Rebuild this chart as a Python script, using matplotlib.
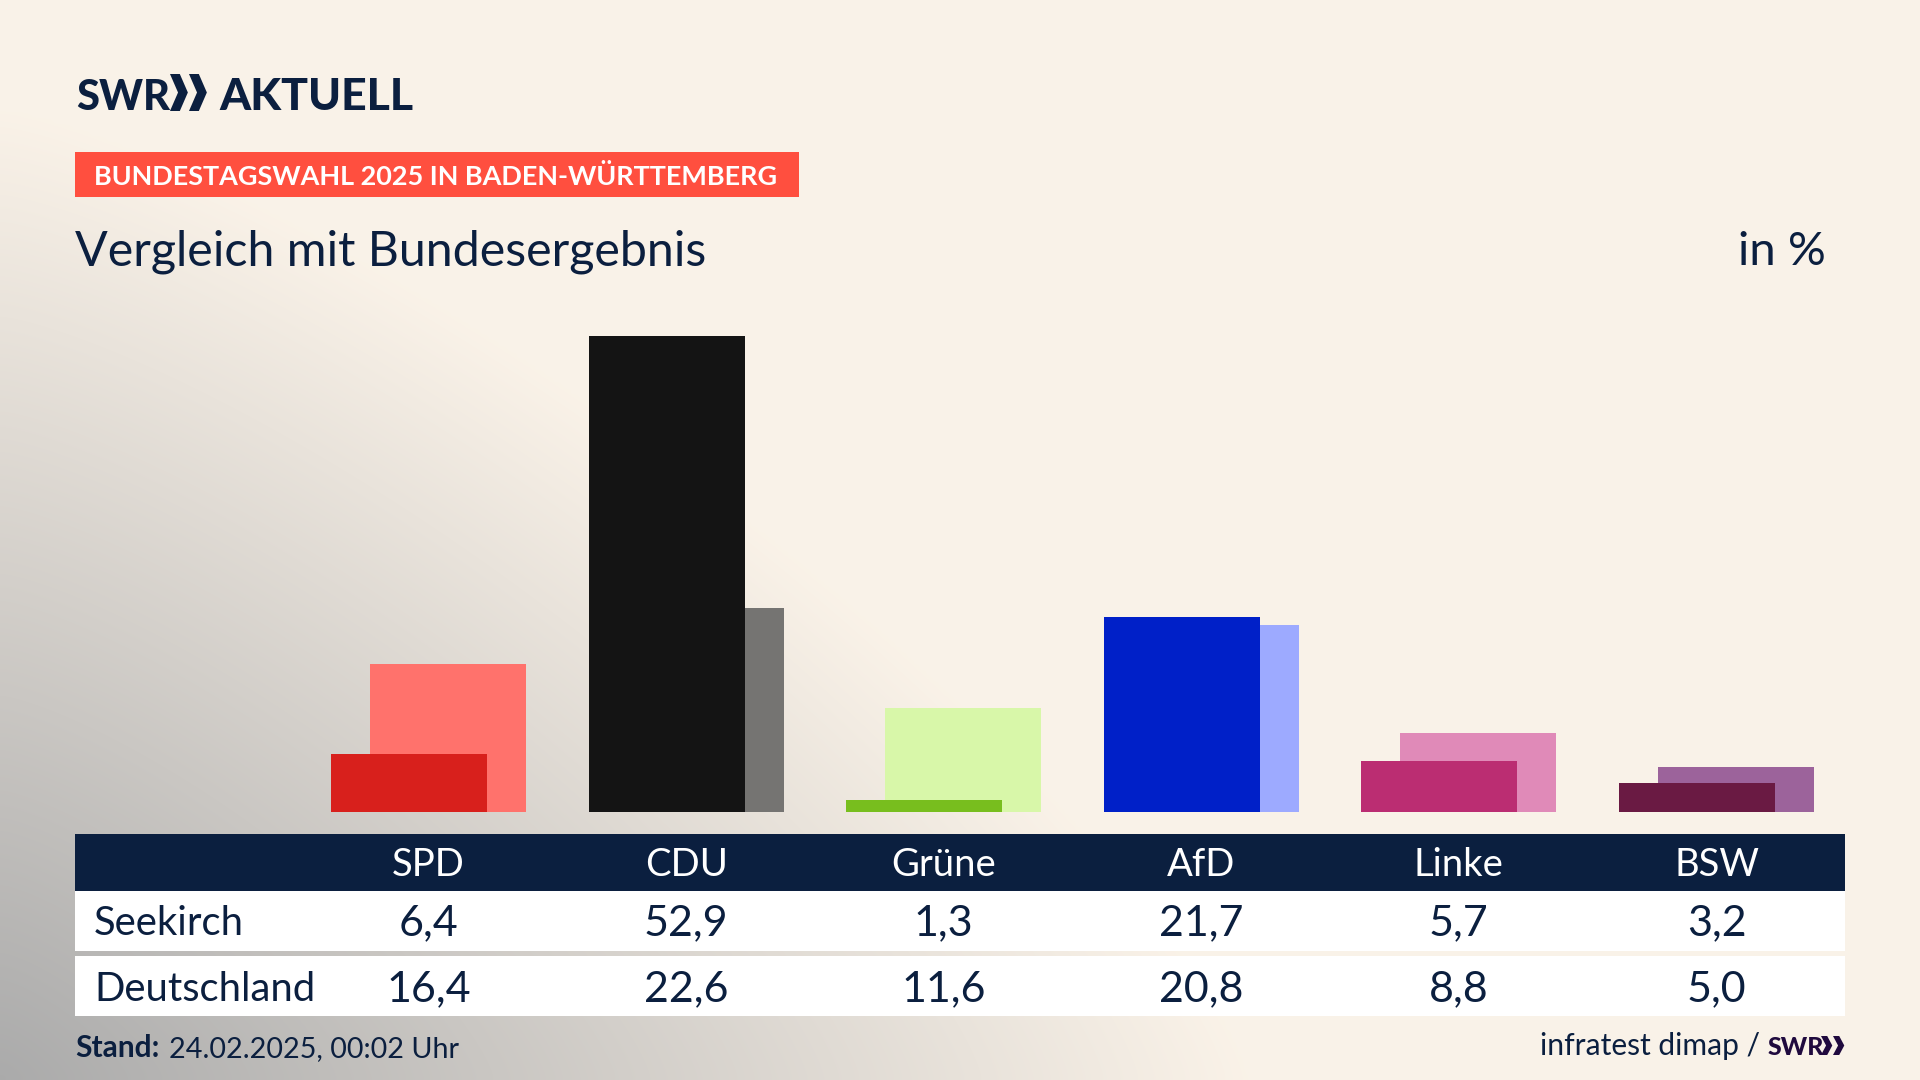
import matplotlib
matplotlib.use("Agg")
import matplotlib.pyplot as plt
import numpy as np

W, H = 1920, 1080
FONT = "Lato"
NAVY = "#0b1f3f"

parteien = ["SPD", "CDU", "Grüne", "AfD", "Linke", "BSW"]
seekirch = [6.4, 52.9, 1.3, 21.7, 5.7, 3.2]
deutschland = [16.4, 22.6, 11.6, 20.8, 8.8, 5.0]
farbe_vorn = ["#d8201c", "#141414", "#78be1e", "#0020c8", "#bb2d72", "#6a1a43"]
farbe_hinten = ["#ff726c", "#757472", "#d8f7a9", "#9daaff", "#e08ab8", "#9c639b"]


def fmt(v):
    return f"{v:.1f}".replace(".", ",")


def chevrons(ax, x, y, h, w, color):
    # two arrow heads of the SWR logo
    for i in range(2):
        x0 = x + i * w * 0.5
        t = w * 0.47
        arm = t * 0.55
        ax.fill([x0, x0 + arm, x0 + t, x0 + arm, x0, x0 + t - arm],
                [y, y, y + h / 2, y + h, y + h, y + h / 2],
                color=color, lw=0, zorder=5)


fig = plt.figure(figsize=(W / 100, H / 100), dpi=100)

# background: cream with grey corner bottom left
bg = fig.add_axes([0, 0, 1, 1])
xx, yy = np.meshgrid(np.linspace(0, 1, 320), np.linspace(0, 1, 180))
p = 1.3
d = ((xx / 0.65) ** p + ((1 - yy) / 0.9) ** p) ** (1 / p)
t = np.clip(d, 0, 1)[..., None]
img = np.array([0.67, 0.67, 0.67]) * (1 - t) + np.array([0.98, 0.95, 0.91]) * t
bg.imshow(img, extent=[0, W, H, 0], aspect="auto", interpolation="bilinear")
bg.set_xlim(0, W)
bg.set_ylim(H, 0)
bg.axis("off")

# table and header blocks
bg.fill_between([75, 1845], 834, 891, color=NAVY, lw=0)
bg.fill_between([75, 1845], 891, 951, color="white", lw=0)
bg.fill_between([75, 1845], 956, 1016, color="white", lw=0)
bg.fill_between([75, 799], 152, 197, color="#ff4f3f", lw=0)

# logo
bg.text(76, 110.5, "SWR", family=FONT, weight="black", fontsize=30, color=NAVY, va="baseline")
chevrons(bg, 170, 74, 37, 38, NAVY)
bg.text(219, 110.5, "AKTUELL", family=FONT, weight="black", fontsize=32, color=NAVY, va="baseline")

bg.text(94, 185, "BUNDESTAGSWAHL 2025 IN BADEN-WÜRTTEMBERG", family=FONT, weight="bold",
        fontsize=19.45, color="white", va="baseline")
bg.text(75, 265, "Vergleich mit Bundesergebnis", family=FONT, fontsize=34.8, color=NAVY, va="baseline")
bg.text(1826, 265, "in %", family=FONT, fontsize=34, color=NAVY, va="baseline", ha="right")

# bars, one party unit = 257.6 px, y scale 9 px per percent
ax_left, ax_right = 75, 1845
ax = fig.add_axes([ax_left / W, (H - 812) / H, (ax_right - ax_left) / W, (812 - 335.5) / H])
ax.patch.set_alpha(0)
x = np.arange(len(parteien))
ax.bar(x + 0.0757, deutschland, width=0.606, color=farbe_hinten, lw=0, zorder=1)
ax.bar(x - 0.0757, seekirch, width=0.606, color=farbe_vorn, lw=0, zorder=2)
ax.set_xlim((ax_left - 428.5) / 257.6, (ax_right - 428.5) / 257.6)
ax.set_ylim(0, 52.9)
ax.axis("off")

# table text
for i, partei in enumerate(parteien):
    cx = 428.5 + i * 257.6
    bg.text(cx, 876, partei, family=FONT, fontsize=27.5, color="white", ha="center", va="baseline")
    bg.text(cx, 935, fmt(seekirch[i]), family=FONT, fontsize=31, color=NAVY, ha="center", va="baseline")
    bg.text(cx, 1001, fmt(deutschland[i]), family=FONT, fontsize=31, color=NAVY, ha="center", va="baseline")
bg.text(94, 935, "Seekirch", family=FONT, fontsize=28.8, color=NAVY, va="baseline")
bg.text(94, 1001, "Deutschland", family=FONT, fontsize=28.8, color=NAVY, va="baseline")

# footer
bg.text(75, 1057, "Stand:", family=FONT, weight="bold", fontsize=21.5, color=NAVY, va="baseline")
bg.text(169, 1057, "24.02.2025, 00:02 Uhr", family=FONT, fontsize=20.7, color=NAVY, va="baseline")
bg.text(1760, 1055, "infratest dimap /", family=FONT, fontsize=21.6, color=NAVY, va="baseline", ha="right")
bg.text(1768, 1055, "SWR", family=FONT, weight="black", fontsize=18, color="#200a3e", va="baseline")
chevrons(bg, 1821, 1036, 19, 24, "#200a3e")

fig.savefig("out.png", dpi=100)
